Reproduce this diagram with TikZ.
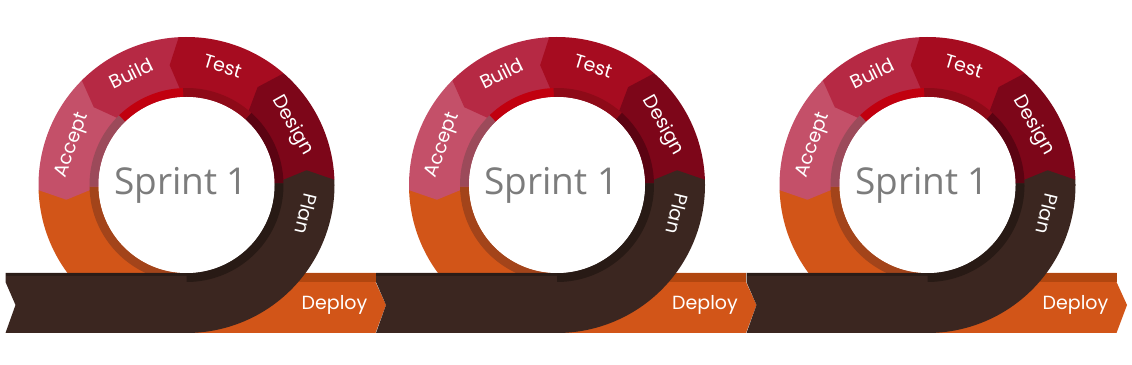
\documentclass[tikz,border=0pt]{standalone}
\usepackage{fontspec}
\setmainfont{Open Sans}
\newfontfamily\labfont{Poppins}
\definecolor{cOrange}{HTML}{D25518}
\definecolor{cOrangeDark}{HTML}{B1460F}
\definecolor{cOrangeLip}{HTML}{A3441A}
\definecolor{cAccept}{HTML}{C45069}
\definecolor{cAcceptLip}{HTML}{9C4A5A}
\definecolor{cBuild}{HTML}{B62944}
\definecolor{cBuildLip}{HTML}{C1000F}
\definecolor{cTest}{HTML}{A60C20}
\definecolor{cTestLip}{HTML}{8E0A18}
\definecolor{cDesign}{HTML}{7D0619}
\definecolor{cDesignLip}{HTML}{5B0312}
\definecolor{cPlan}{HTML}{3B2620}
\definecolor{cPlanLip}{HTML}{281A15}
\definecolor{cPlanDark}{HTML}{2B1C17}
\definecolor{cGrey}{HTML}{7C7C7C}
\newcommand\ringseg[3]{\fill[#1] (#2:148) arc[start angle=#2,end angle=#3,radius=148] -- ({#3+5}:121) -- ({#3-1}:88) arc[start angle={#3-1},end angle={#2-1},radius=88] -- cycle;}
\newcommand\lipseg[3]{\fill[#1] (#2:97) arc[start angle=#2,end angle=#3,radius=97] -- (#3:88) arc[start angle=#3,end angle=#2,radius=88] -- cycle;}
\tikzset{
  lab/.style={text=white, font=\labfont\fontsize{19}{19}\selectfont, inner sep=0pt, text height=0.7em, text depth=0pt},
  deploylab/.style={text=white, font=\labfont\fontsize{19}{19}\selectfont, inner sep=0pt, text height=0.7em, text depth=0pt},
  sprintlab/.style={text=cGrey, font=\fontsize{37}{37}\selectfont, inner sep=0pt, anchor=base},
}
\begin{document}
\begin{tikzpicture}[x=1pt,y=1pt]
\useasboundingbox (0,0) rectangle (1132,364);
\fill[white] (0,0) rectangle (1132,364);
\foreach \cx/\k in {186.5/1,557/2,927.5/3}{
\begin{scope}[shift={(\cx,179)}]
  % orange deploy ribbon
  \fill[cOrange] (0,-88) -- (189,-88) -- (189,-97) -- (199.5,-120) -- (189,-148) -- (0,-148) -- cycle;
  \fill[cOrangeDark] (0,-88) rectangle (189,-97);
  % ring segments
  \fill[cOrange] (182:148) arc[start angle=182,end angle=272,radius=148] -- (272:88) arc[start angle=272,end angle=181,radius=88] -- cycle;
  \ringseg{cAccept}{135}{182}
  \ringseg{cBuild}{93}{135}
  \ringseg{cTest}{49}{93}
  \ringseg{cDesign}{2}{49}
  \ringseg{cPlan}{-90}{2}
  % inner lip
  \lipseg{cOrangeLip}{181}{270}
  \lipseg{cAcceptLip}{134}{181}
  \lipseg{cBuildLip}{92}{134}
  \lipseg{cTestLip}{48}{92}
  \lipseg{cDesignLip}{1}{48}
  % brown ribbon
  \fill[cPlan] (-181,-88) -- (1.5,-88) -- (1.5,-148) -- (-181,-148) -- (-171,-120) -- (-181,-97) -- cycle;
  \fill[cPlanDark] (-181,-88) rectangle (0,-91);
  \lipseg{cPlanLip}{-90}{1}
  % white centre
  \fill[white] (0,0) circle[radius=88];
  \node[sprintlab] (sprint\k) at (-5.5,-10) {Sprint 1};
  \node[lab, rotate=-103.6] (plan\k) at (-13.6:120) {Plan};
  \node[lab, rotate=-60.7] (design\k) at (29.3:120) {Design};
  \node[lab, rotate=-16.9] (test\k) at (73.1:121) {Test};
  \node[lab, rotate=26.4] (build\k) at (116.4:121) {Build};
  \node[lab, rotate=70.6] (accept\k) at (160.6:120) {Accept};
  \node[deploylab] (deploy\k) at (148,-120.7) {Deploy};
\end{scope}}
\end{tikzpicture}
\end{document}
